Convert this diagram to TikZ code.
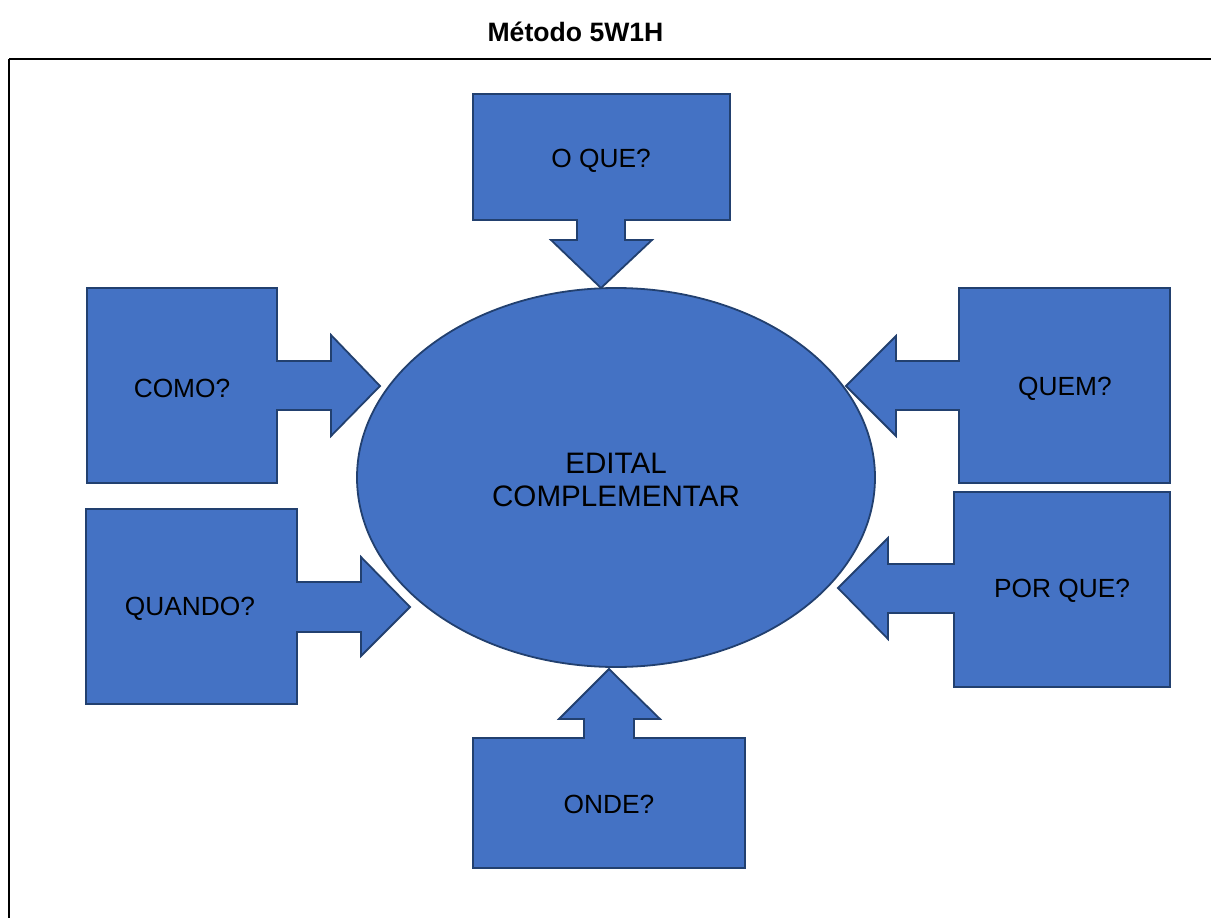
\documentclass[tikz,border=0pt]{standalone}
\usepackage{fontspec}
\setmainfont{Liberation Sans}
\usetikzlibrary{shapes.geometric}
\definecolor{boxfill}{HTML}{4472C4}
\definecolor{boxline}{HTML}{22406F}
\begin{document}
\begin{tikzpicture}[x=1pt,y=-1pt,
  shapebox/.style={fill=boxfill,draw=boxline,line width=1.8pt,line join=miter},
  lbl/.style={font=\fontsize{26.3}{30}\selectfont,text=black,inner sep=0pt},
  centertext/.style={font=\fontsize{29.6}{33}\selectfont,text=black,align=center,inner sep=0pt}]
\useasboundingbox (0,0) rectangle (1211,918);
\clip (0,0) rectangle (1211,918);
\fill[white] (0,0) rectangle (1211,918);
% frame
\draw[line width=2pt,black] (9,59) -- (1230,59) (9,59) -- (9,940);
% title
\node[font=\bfseries\fontsize{26.6}{30}\selectfont,inner sep=0pt] (title) at (575.5,32) {Método 5W1H};
% central ellipse
\node[shapebox,ellipse,minimum width=518pt,minimum height=379pt,inner sep=0pt] (edital) at (616,477.5) {};
\node[centertext] (editaltxt) at (616,480) {EDITAL\\COMPLEMENTAR};
% O QUE? (arrow down)
\draw[shapebox] (473,94) -- (730,94) -- (730,220) -- (625,220) -- (625,240) -- (652,240) -- (601,288) -- (551,240) -- (577,240) -- (577,220) -- (473,220) -- cycle;
\node[lbl] (oque) at (601,160.5) {O QUE?};
% COMO? (arrow right)
\draw[shapebox] (87,288) -- (277,288) -- (277,361) -- (331,361) -- (331,335) -- (380,386) -- (331,436) -- (331,410) -- (277,410) -- (277,483) -- (87,483) -- cycle;
\node[lbl] (como) at (182,388.5) {COMO?};
% QUANDO? (arrow right)
\draw[shapebox] (86,509) -- (297,509) -- (297,582) -- (361,582) -- (361,557) -- (410,607) -- (361,656) -- (361,632) -- (297,632) -- (297,704) -- (86,704) -- cycle;
\node[lbl] (quando) at (190,608.5) {QUANDO?};
% QUEM? (arrow left)
\draw[shapebox] (1170,288) -- (959,288) -- (959,361) -- (896,361) -- (896,336) -- (846,386) -- (896,436) -- (896,410) -- (959,410) -- (959,483) -- (1170,483) -- cycle;
\node[lbl] (quem) at (1065,388.5) {QUEM?};
% POR QUE? (arrow left)
\draw[shapebox] (1170,492) -- (954,492) -- (954,564) -- (888,564) -- (888,538) -- (838,588) -- (888,639) -- (888,613) -- (954,613) -- (954,687) -- (1170,687) -- cycle;
\node[lbl] (porque) at (1062,590.5) {POR QUE?};
% ONDE? (arrow up)
\draw[shapebox] (473,738) -- (584,738) -- (584,719) -- (559,719) -- (609,669) -- (660,719) -- (634,719) -- (634,738) -- (745,738) -- (745,868) -- (473,868) -- cycle;
\node[lbl] (onde) at (609,804.5) {ONDE?};
\end{tikzpicture}
\end{document}
